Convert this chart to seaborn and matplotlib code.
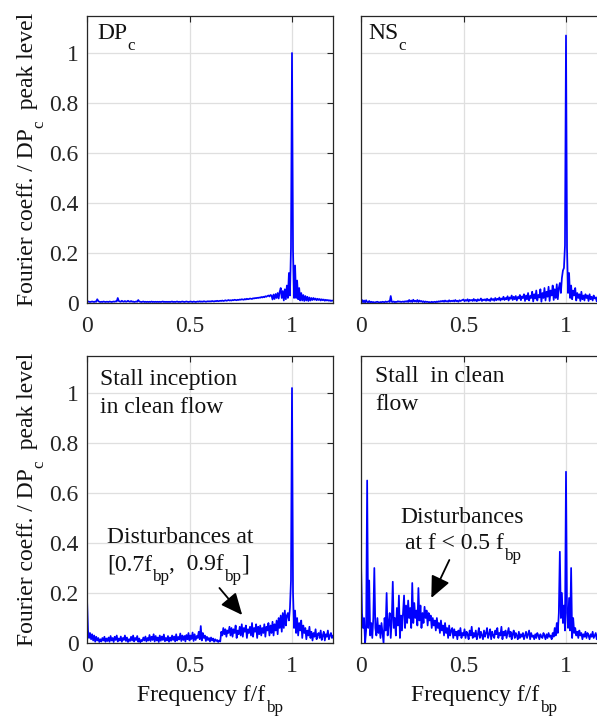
import numpy as np
import pandas as pd
import matplotlib
matplotlib.use("Agg")
import matplotlib.pyplot as plt
from matplotlib.text import Annotation
import seaborn as sns

# ---------------- data ----------------
freq = np.round(np.arange(0, 241) * 0.005, 3)  # frequency grid f/f_bp, 0 .. 1.2

dpc = [
    0.01, 0.006, 0.005, 0.004, 0.005, 0.006, 0.005, 0.004, 0.006, 0.005, 0.015, 0.008, 0.005, 0.004, 0.005, 0.004, 0.006, 0.005, 0.004, 0.005,
    0.005, 0.004, 0.006, 0.005, 0.004, 0.005, 0.006, 0.005, 0.007, 0.006, 0.02, 0.008, 0.006, 0.005, 0.009, 0.006, 0.005, 0.008, 0.005, 0.006,
    0.009, 0.006, 0.005, 0.008, 0.005, 0.006, 0.004, 0.005, 0.006, 0.005, 0.012, 0.006, 0.005, 0.004, 0.005, 0.006, 0.004, 0.005, 0.004, 0.005,
    0.004, 0.005, 0.004, 0.006, 0.004, 0.005, 0.004, 0.005, 0.004, 0.005, 0.004, 0.005, 0.004, 0.005, 0.006, 0.004, 0.005, 0.004, 0.005, 0.004,
    0.005, 0.004, 0.005, 0.006, 0.004, 0.005, 0.004, 0.005, 0.006, 0.004, 0.005, 0.004, 0.005, 0.006, 0.005, 0.004, 0.005, 0.006, 0.005, 0.004,
    0.005, 0.006, 0.005, 0.004, 0.006, 0.005, 0.004, 0.005, 0.006, 0.005, 0.007, 0.005, 0.006, 0.005, 0.007, 0.006, 0.005, 0.006, 0.007, 0.006,
    0.007, 0.006, 0.008, 0.007, 0.006, 0.008, 0.007, 0.009, 0.007, 0.008, 0.009, 0.008, 0.01, 0.008, 0.009, 0.011, 0.009, 0.01, 0.012, 0.01,
    0.011, 0.01, 0.012, 0.011, 0.013, 0.012, 0.011, 0.013, 0.012, 0.014, 0.013, 0.015, 0.014, 0.013, 0.016, 0.014, 0.017, 0.015, 0.016, 0.018,
    0.017, 0.016, 0.019, 0.018, 0.02, 0.019, 0.021, 0.02, 0.022, 0.021, 0.024, 0.022, 0.025, 0.023, 0.027, 0.025, 0.028, 0.03, 0.026, 0.032,
    0.03, 0.014, 0.034, 0.016, 0.036, 0.02, 0.04, 0.018, 0.045, 0.06, 0.02, 0.048, 0.01, 0.055, 0.015, 0.07, 0.02, 0.12, 0.03, 0.22,
    1.0, 0.21, 0.02, 0.15, 0.02, 0.09, 0.015, 0.06, 0.01, 0.04, 0.01, 0.032, 0.008, 0.028, 0.01, 0.025, 0.008, 0.022, 0.01, 0.02,
    0.012, 0.02, 0.013, 0.018, 0.011, 0.017, 0.012, 0.016, 0.01, 0.015, 0.011, 0.014, 0.009, 0.013, 0.01, 0.012, 0.009, 0.011, 0.008, 0.01,
    0.009,
]

nsc = [
    0.004, 0.012, 0.003, 0.01, 0.002, 0.011, 0.004, 0.003, 0.008, 0.002, 0.005, 0.003, 0.004, 0.002, 0.003, 0.004, 0.005, 0.003, 0.002, 0.004,
    0.003, 0.005, 0.004, 0.003, 0.006, 0.004, 0.005, 0.007, 0.004, 0.028, 0.005, 0.004, 0.006, 0.003, 0.005, 0.004, 0.007, 0.005, 0.006, 0.004,
    0.005, 0.006, 0.004, 0.007, 0.005, 0.008, 0.004, 0.012, 0.005, 0.01, 0.004, 0.013, 0.006, 0.009, 0.005, 0.012, 0.004, 0.01, 0.006, 0.008,
    0.004, 0.007, 0.003, 0.006, 0.004, 0.005, 0.003, 0.004, 0.002, 0.005, 0.003, 0.004, 0.005, 0.003, 0.006, 0.004, 0.007, 0.005, 0.008, 0.006,
    0.009, 0.005, 0.01, 0.006, 0.008, 0.005, 0.011, 0.006, 0.009, 0.007, 0.01, 0.006, 0.012, 0.007, 0.009, 0.005, 0.011, 0.008, 0.01, 0.012,
    0.014, 0.007, 0.012, 0.009, 0.015, 0.006, 0.013, 0.01, 0.012, 0.008, 0.016, 0.009, 0.013, 0.007, 0.015, 0.01, 0.012, 0.018, 0.008, 0.014,
    0.011, 0.015, 0.009, 0.017, 0.01, 0.014, 0.008, 0.019, 0.012, 0.016, 0.009, 0.02, 0.011, 0.017, 0.013, 0.022, 0.01, 0.018, 0.014, 0.025,
    0.012, 0.02, 0.015, 0.027, 0.01, 0.022, 0.017, 0.03, 0.012, 0.025, 0.015, 0.028, 0.01, 0.024, 0.018, 0.032, 0.011, 0.026, 0.02, 0.035,
    0.008, 0.03, 0.015, 0.04, 0.01, 0.028, 0.02, 0.045, 0.006, 0.035, 0.018, 0.05, 0.01, 0.032, 0.022, 0.055, 0.005, 0.04, 0.02, 0.06,
    0.01, 0.045, 0.025, 0.065, 0.008, 0.05, 0.03, 0.07, 0.012, 0.055, 0.02, 0.075, 0.015, 0.06, 0.08, 0.04, 0.1, 0.13, 0.14, 0.23,
    1.07, 0.22, 0.04, 0.12, 0.02, 0.07, 0.015, 0.05, 0.03, 0.06, 0.01, 0.04, 0.02, 0.035, 0.008, 0.045, 0.015, 0.03, 0.01, 0.035,
    0.02, 0.03, 0.008, 0.035, 0.015, 0.025, 0.01, 0.03, 0.018, 0.022, 0.006, 0.028, 0.012, 0.024, 0.01, 0.03, 0.015, 0.02, 0.008, 0.025,
    0.015,
]

inception = [
    0.18, 0.05, 0.02, 0.04, 0.015, 0.035, 0.01, 0.03, 0.005, 0.025, 0.01, 0.02, 0.004, 0.015, 0.006, 0.02, 0.01, 0.025, 0.005, 0.018,
    0.008, 0.022, 0.005, 0.028, 0.01, 0.02, 0.004, 0.025, 0.012, 0.03, 0.006, 0.018, 0.01, 0.026, 0.005, 0.02, 0.012, 0.03, 0.008, 0.022,
    0.004, 0.015, 0.008, 0.025, 0.01, 0.03, 0.006, 0.02, 0.012, 0.028, 0.005, 0.018, 0.003, 0.012, 0.008, 0.022, 0.01, 0.026, 0.006, 0.02,
    0.01, 0.032, 0.008, 0.025, 0.012, 0.035, 0.006, 0.028, 0.01, 0.022, 0.004, 0.03, 0.009, 0.026, 0.012, 0.034, 0.007, 0.02, 0.01, 0.028,
    0.005, 0.022, 0.009, 0.03, 0.012, 0.026, 0.006, 0.035, 0.01, 0.024, 0.014, 0.038, 0.008, 0.03, 0.012, 0.028, 0.006, 0.032, 0.015, 0.04,
    0.01, 0.03, 0.016, 0.042, 0.008, 0.035, 0.012, 0.028, 0.02, 0.045, 0.015, 0.068, 0.01, 0.04, 0.02, 0.03, 0.008, 0.025, 0.012, 0.02,
    0.006, 0.022, 0.01, 0.018, 0.005, 0.015, 0.008, 0.012, 0.004, 0.01, 0.006, 0.045, 0.03, 0.06, 0.035, 0.055, 0.025, 0.05, 0.04, 0.065,
    0.03, 0.06, 0.025, 0.055, 0.04, 0.07, 0.02, 0.05, 0.035, 0.065, 0.03, 0.075, 0.025, 0.06, 0.045, 0.07, 0.02, 0.055, 0.04, 0.065,
    0.03, 0.08, 0.025, 0.06, 0.045, 0.075, 0.02, 0.065, 0.035, 0.07, 0.03, 0.06, 0.04, 0.075, 0.025, 0.065, 0.05, 0.08, 0.03, 0.07,
    0.04, 0.085, 0.03, 0.075, 0.05, 0.09, 0.035, 0.1, 0.06, 0.11, 0.045, 0.12, 0.06, 0.13, 0.07, 0.11, 0.12, 0.09, 0.14, 0.25,
    1.02, 0.2, 0.06, 0.13, 0.04, 0.1, 0.03, 0.08, 0.05, 0.09, 0.02, 0.07, 0.04, 0.06, 0.015, 0.05, 0.03, 0.065, 0.02, 0.045,
    0.01, 0.04, 0.025, 0.055, 0.015, 0.035, 0.04, 0.02, 0.05, 0.012, 0.03, 0.045, 0.01, 0.035, 0.025, 0.05, 0.015, 0.03, 0.04, 0.02,
    0.03,
]

stall = [
    0.33, 0.12, 0.06, 0.1, 0.0, 0.05, 0.65, 0.06, 0.25, 0.03, 0.08, 0.02, 0.1, 0.3, 0.06, 0.03, 0.1, 0.04, 0.07, 0.02,
    0.08, 0.04, 0.0, 0.1, 0.05, 0.2, 0.03, 0.08, 0.12, 0.02, 0.09, 0.245, 0.06, 0.1, 0.03, 0.14, 0.07, 0.19, 0.02, 0.11,
    0.05, 0.12, 0.19, 0.06, 0.15, 0.08, 0.17, 0.1, 0.14, 0.06, 0.24, 0.08, 0.16, 0.1, 0.13, 0.07, 0.22, 0.09, 0.15, 0.06,
    0.12, 0.08, 0.145, 0.1, 0.13, 0.07, 0.12, 0.09, 0.11, 0.06, 0.1, 0.07, 0.09, 0.05, 0.1, 0.06, 0.08, 0.04, 0.09, 0.05,
    0.07, 0.03, 0.08, 0.04, 0.06, 0.02, 0.07, 0.03, 0.05, 0.06, 0.02, 0.055, 0.03, 0.045, 0.015, 0.05, 0.03, 0.06, 0.02, 0.04,
    0.03, 0.055, 0.02, 0.045, 0.035, 0.015, 0.05, 0.03, 0.065, 0.02, 0.04, 0.025, 0.05, 0.015, 0.035, 0.06, 0.02, 0.045, 0.03, 0.015,
    0.05, 0.025, 0.04, 0.06, 0.02, 0.035, 0.055, 0.015, 0.045, 0.03, 0.02, 0.05, 0.035, 0.06, 0.02, 0.04, 0.03, 0.065, 0.015, 0.045,
    0.03, 0.05, 0.02, 0.04, 0.06, 0.025, 0.045, 0.015, 0.035, 0.05, 0.02, 0.04, 0.03, 0.015, 0.045, 0.02, 0.035, 0.025, 0.04, 0.015,
    0.03, 0.045, 0.02, 0.035, 0.05, 0.015, 0.04, 0.025, 0.03, 0.015, 0.035, 0.02, 0.04, 0.03, 0.015, 0.035, 0.025, 0.02, 0.04, 0.03,
    0.015, 0.035, 0.02, 0.04, 0.025, 0.03, 0.015, 0.04, 0.025, 0.06, 0.03, 0.08, 0.04, 0.12, 0.365, 0.1, 0.2, 0.08, 0.15, 0.05,
    0.685, 0.12, 0.06, 0.18, 0.05, 0.3, 0.02, 0.1, 0.04, 0.06, 0.03, 0.045, 0.02, 0.05, 0.03, 0.04, 0.015, 0.035, 0.025, 0.045,
    0.02, 0.04, 0.03, 0.015, 0.035, 0.025, 0.045, 0.02, 0.03, 0.04, 0.015, 0.035, 0.025, 0.04, 0.02, 0.03, 0.045, 0.025, 0.035, 0.02,
    0.03,
]

x_ticks = [0, 0.5, 1]
x_tick_labels = ["0", "0.5", "1"]
y_ticks = [0, 0.2, 0.4, 0.6, 0.8, 1.0]
y_tick_labels = ["0", "0.2", "0.4", "0.6", "0.8", "1"]

# ---------------- style ----------------
sns.set_theme(style="white")
plt.rcParams["font.family"] = ["Liberation Serif", "DejaVu Serif"]

FS = 17
SUB = 0.72
DROP = 7.0
TC = "#111111"
W, H = 597, 716
fig = plt.figure(figsize=(W / 100, H / 100), dpi=100)
fig.patch.set_facecolor("white")

ax_w = 246 / W
ax_h = 287.5 / H
left_l = 87 / W
left_r = 361 / W
bot_top = (H - 303) / H
bot_bot = (H - 643) / H

axes = {
    "tl": fig.add_axes([left_l, bot_top, ax_w, ax_h]),
    "tr": fig.add_axes([left_r, bot_top, ax_w, ax_h]),
    "bl": fig.add_axes([left_l, bot_bot, ax_w, ax_h]),
    "br": fig.add_axes([left_r, bot_bot, ax_w, ax_h]),
}
series = {"tl": dpc, "tr": nsc, "bl": inception, "br": stall}

for key, ax in axes.items():
    df = pd.DataFrame({"f": freq, "v": series[key]})
    sns.lineplot(data=df, x="f", y="v", ax=ax, color="#0000ff", linewidth=1.25)
    ax.set_xlim(0, 1.2)
    ax.set_ylim(0, 1.15)
    ax.set_xticks(x_ticks)
    ax.set_yticks(y_ticks)
    ax.set_xticklabels(x_tick_labels)
    if key in ("tl", "bl"):
        ax.set_yticklabels(y_tick_labels)
    else:
        ax.set_yticklabels([])
    ax.grid(True, color="#dfdfdf", linewidth=0.9)
    ax.set_axisbelow(True)
    for sp in ax.spines.values():
        sp.set_visible(True)
        sp.set_color("#262626")
        sp.set_linewidth(0.9)
    ax.tick_params(axis="both", direction="in", length=4, width=0.8, color="#262626",
                   top=True, right=True, labelsize=FS, labelcolor="#262626")
    ax.tick_params(axis="x", pad=9)
    ax.tick_params(axis="y", pad=6)
    ax.set_xlabel("")
    ax.set_ylabel("")


def chain(x, y, parts, transform, rotation=0, fs=FS, color=TC):
    """Draw text with MATLAB-like subscripts: parts is a list of (string, is_subscript)."""
    arts = []
    prev, prev_sub = None, False
    for s, sub in parts:
        size = fs * SUB if sub else fs
        if prev is None:
            if rotation == 0:
                t = fig.text(x, y, s, fontsize=size, ha="left", va="baseline",
                             transform=transform, color=color)
            else:
                t = fig.text(x, y, s, fontsize=size, ha="right", va="bottom", rotation=90,
                             transform=transform, color=color)
        else:
            d = (-DROP if sub else 0.0) + (DROP if prev_sub else 0.0)
            if rotation == 0:
                t = Annotation(s, xy=(1, 0), xycoords=prev, xytext=(0, d),
                               textcoords="offset points", fontsize=size,
                               ha="left", va="bottom", color=color)
            else:
                t = Annotation(s, xy=(1, 1), xycoords=prev, xytext=(-d, 0),
                               textcoords="offset points", fontsize=size,
                               ha="right", va="bottom", rotation=90, color=color)
            fig.add_artist(t)
        arts.append(t)
        prev, prev_sub = t, sub
    return arts


def center_chain(arts, center, vertical=False):
    r = fig.canvas.get_renderer()
    bbs = [a.get_window_extent(r) for a in arts]
    if vertical:
        lo, hi = min(b.y0 for b in bbs), max(b.y1 for b in bbs)
        shift = center - (lo + hi) / 2
        x0, y0 = arts[0].get_position()
        arts[0].set_position((x0, y0 + shift / H))
    else:
        lo, hi = min(b.x0 for b in bbs), max(b.x1 for b in bbs)
        shift = center - (lo + hi) / 2
        x0, y0 = arts[0].get_position()
        arts[0].set_position((x0 + shift / W, y0))


# y labels (rotated, MATLAB subscripts)
for top_px, bot_px in ((16, 303), (356, 643)):
    arts = chain(38 / W, (H - bot_px) / H,
                 [("Fourier coeff. / DP", False), ("c", True), ("  peak level", False)],
                 fig.transFigure, rotation=90)
    fig.canvas.draw()
    center_chain(arts, H - (top_px + bot_px) / 2, vertical=True)

# x labels
for left_px in (87, 361):
    arts = chain(left_px / W, (H - 701) / H,
                 [("Frequency f/f", False), ("bp", True)], fig.transFigure)
    fig.canvas.draw()
    center_chain(arts, left_px + 123)

# panel texts
chain(0.05, 1.055, [("DP", False), ("c", True)], axes["tl"].transData)
chain(0.034, 1.055, [("NS", False), ("c", True)], axes["tr"].transData)

axes["bl"].text(0.063, 1.032, "Stall inception", fontsize=FS, color=TC, va="baseline")
axes["bl"].text(0.063, 0.921, "in clean flow", fontsize=FS, color=TC, va="baseline")
axes["bl"].text(0.098, 0.40, "Disturbances at", fontsize=FS, color=TC, va="baseline")
chain(0.098, 0.292, [("[0.7f", False), ("bp", True), (",  0.9f", False), ("bp", True), ("]", False)],
      axes["bl"].transData)
axes["bl"].annotate("", xy=(0.757, 0.112), xytext=(0.646, 0.22),
                    arrowprops=dict(arrowstyle="-|>,head_length=0.6,head_width=0.27", color="black",
                                    lw=1.3, mutation_scale=22, shrinkA=0, shrinkB=0))

axes["br"].text(0.069, 1.045, "Stall  in clean", fontsize=FS, color=TC, va="baseline")
axes["br"].text(0.069, 0.932, "flow", fontsize=FS, color=TC, va="baseline")
axes["br"].text(0.494, 0.48, "Disturbances", fontsize=FS, color=TC, va="baseline", ha="center")
chain(0.214, 0.376, [("at f < 0.5 f", False), ("bp", True)], axes["br"].transData)
axes["br"].annotate("", xy=(0.343, 0.18), xytext=(0.431, 0.332),
                    arrowprops=dict(arrowstyle="-|>,head_length=0.6,head_width=0.27", color="black",
                                    lw=1.3, mutation_scale=22, shrinkA=0, shrinkB=0))

fig.savefig("out.png", dpi=100, facecolor="white")
